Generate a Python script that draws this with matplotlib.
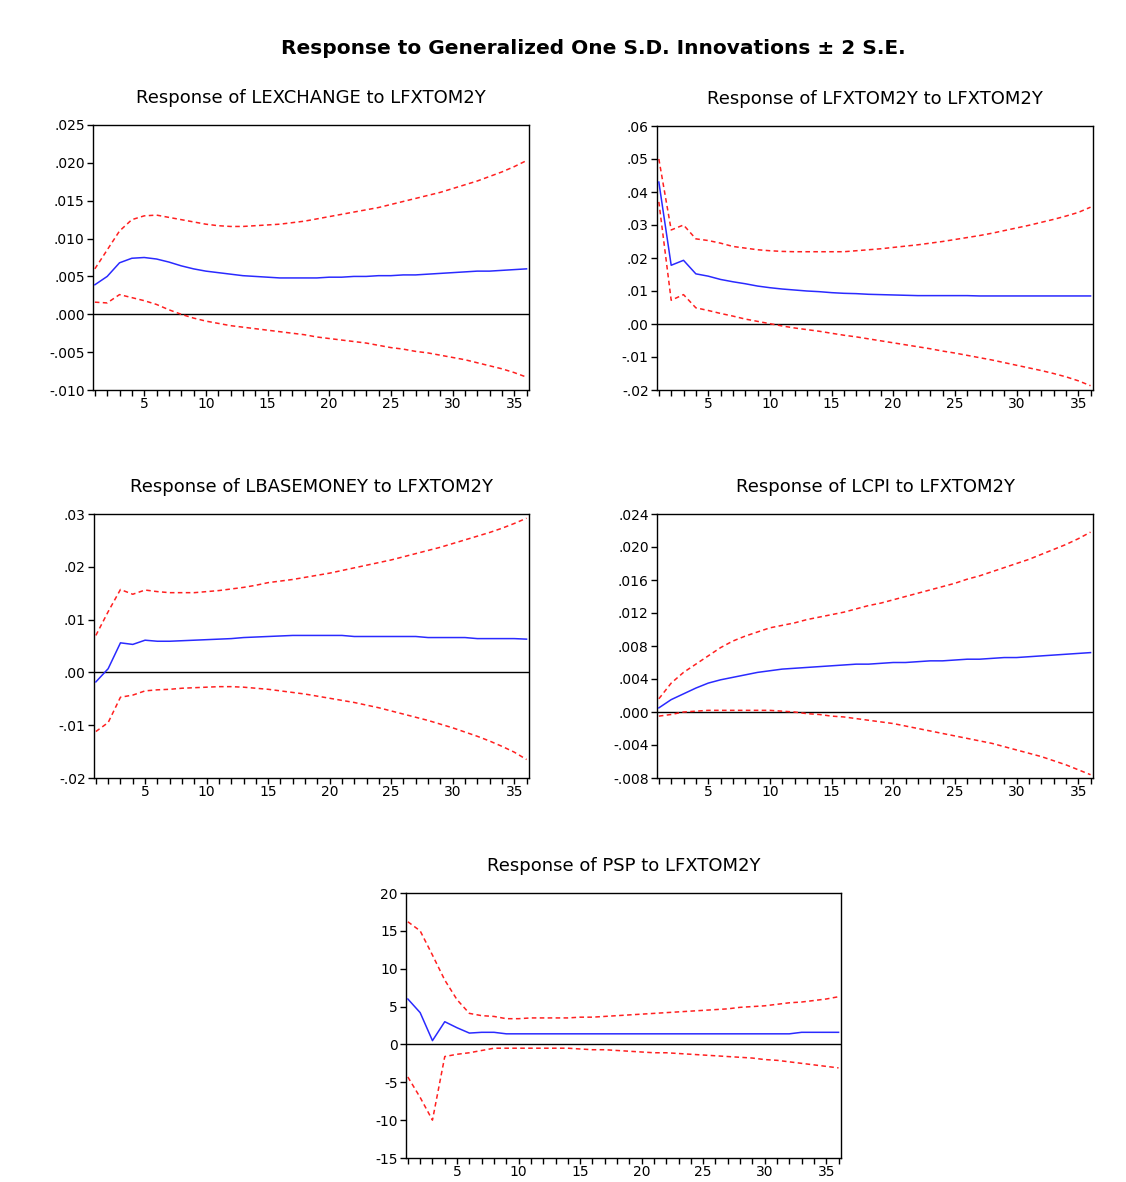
import matplotlib
matplotlib.use("Agg")
import matplotlib.pyplot as plt
from matplotlib.ticker import MultipleLocator, FuncFormatter, FixedLocator
import numpy as np

plt.rcParams['font.family'] = ['DejaVu Sans']

periods = list(range(1, 37))

# Response of LEXCHANGE to LFXTOM2Y
lex_resp = [0.0039, 0.0050, 0.0068, 0.0074, 0.0075, 0.0073, 0.0069, 0.0064, 0.0060, 0.0057,
            0.0055, 0.0053, 0.0051, 0.0050, 0.0049, 0.0048, 0.0048, 0.0048, 0.0048, 0.0049,
            0.0049, 0.0050, 0.0050, 0.0051, 0.0051, 0.0052, 0.0052, 0.0053, 0.0054, 0.0055,
            0.0056, 0.0057, 0.0057, 0.0058, 0.0059, 0.0060]
lex_upper = [0.0060, 0.0085, 0.0110, 0.0125, 0.0130, 0.0131, 0.0128, 0.0125, 0.0122, 0.0119,
             0.0117, 0.0116, 0.0116, 0.0117, 0.0118, 0.0119, 0.0121, 0.0123, 0.0126, 0.0129,
             0.0132, 0.0135, 0.0138, 0.0141, 0.0145, 0.0149, 0.0153, 0.0157, 0.0161, 0.0166,
             0.0171, 0.0176, 0.0182, 0.0188, 0.0195, 0.0203]
lex_lower = [0.0016, 0.0015, 0.0026, 0.0022, 0.0018, 0.0013, 0.0006, 0.0000, -0.0005, -0.0009,
             -0.0012, -0.0015, -0.0017, -0.0019, -0.0021, -0.0023, -0.0025, -0.0027, -0.0030, -0.0032,
             -0.0034, -0.0036, -0.0038, -0.0041, -0.0044, -0.0046, -0.0049, -0.0051, -0.0054, -0.0057,
             -0.0060, -0.0064, -0.0068, -0.0072, -0.0077, -0.0083]

# Response of LFXTOM2Y to LFXTOM2Y
fx_resp = [0.0430, 0.0178, 0.0193, 0.0152, 0.0145, 0.0135, 0.0128, 0.0122, 0.0115, 0.0110,
           0.0106, 0.0103, 0.0100, 0.0098, 0.0095, 0.0093, 0.0092, 0.0090, 0.0089, 0.0088,
           0.0087, 0.0086, 0.0086, 0.0086, 0.0086, 0.0086, 0.0085, 0.0085, 0.0085, 0.0085,
           0.0085, 0.0085, 0.0085, 0.0085, 0.0085, 0.0085]
fx_upper = [0.0500, 0.0285, 0.0300, 0.0258, 0.0253, 0.0245, 0.0235, 0.0230, 0.0225, 0.0222,
            0.0220, 0.0219, 0.0219, 0.0219, 0.0219, 0.0219, 0.0222, 0.0225, 0.0228, 0.0232,
            0.0236, 0.0240, 0.0245, 0.0250, 0.0256, 0.0262, 0.0268, 0.0275, 0.0283, 0.0291,
            0.0299, 0.0308, 0.0317, 0.0327, 0.0338, 0.0354]
fx_lower = [0.0370, 0.0072, 0.0089, 0.0049, 0.0041, 0.0032, 0.0024, 0.0015, 0.0008, 0.0001,
            -0.0006, -0.0012, -0.0017, -0.0022, -0.0028, -0.0034, -0.0039, -0.0045, -0.0051, -0.0057,
            -0.0063, -0.0069, -0.0075, -0.0082, -0.0088, -0.0095, -0.0102, -0.0109, -0.0117, -0.0125,
            -0.0133, -0.0141, -0.0150, -0.0160, -0.0172, -0.0187]

# Response of LBASEMONEY to LFXTOM2Y
bm_resp = [-0.0018, 0.0007, 0.0056, 0.0053, 0.0061, 0.0059, 0.0059, 0.0060, 0.0061, 0.0062,
           0.0063, 0.0064, 0.0066, 0.0067, 0.0068, 0.0069, 0.0070, 0.0070, 0.0070, 0.0070,
           0.0070, 0.0068, 0.0068, 0.0068, 0.0068, 0.0068, 0.0068, 0.0066, 0.0066, 0.0066,
           0.0066, 0.0064, 0.0064, 0.0064, 0.0064, 0.0063]
bm_upper = [0.0070, 0.0115, 0.0157, 0.0148, 0.0156, 0.0153, 0.0151, 0.0151, 0.0151, 0.0153,
            0.0155, 0.0158, 0.0161, 0.0165, 0.0170, 0.0173, 0.0176, 0.0180, 0.0184, 0.0188,
            0.0193, 0.0198, 0.0203, 0.0208, 0.0213, 0.0219, 0.0225, 0.0231, 0.0237, 0.0244,
            0.0251, 0.0258, 0.0265, 0.0273, 0.0282, 0.0292]
bm_lower = [-0.0112, -0.0095, -0.0047, -0.0043, -0.0035, -0.0033, -0.0032, -0.0030, -0.0029, -0.0028,
            -0.0027, -0.0027, -0.0028, -0.0030, -0.0032, -0.0035, -0.0038, -0.0041, -0.0045, -0.0049,
            -0.0053, -0.0057, -0.0062, -0.0067, -0.0073, -0.0079, -0.0085, -0.0091, -0.0098, -0.0105,
            -0.0113, -0.0121, -0.0130, -0.0140, -0.0151, -0.0165]

# Response of LCPI to LFXTOM2Y
cpi_resp = [0.0005, 0.0015, 0.0022, 0.0029, 0.0035, 0.0039, 0.0042, 0.0045, 0.0048, 0.0050,
            0.0052, 0.0053, 0.0054, 0.0055, 0.0056, 0.0057, 0.0058, 0.0058, 0.0059, 0.0060,
            0.0060, 0.0061, 0.0062, 0.0062, 0.0063, 0.0064, 0.0064, 0.0065, 0.0066, 0.0066,
            0.0067, 0.0068, 0.0069, 0.0070, 0.0071, 0.0072]
cpi_upper = [0.0016, 0.0035, 0.0048, 0.0058, 0.0068, 0.0078, 0.0086, 0.0092, 0.0097, 0.0102,
             0.0105, 0.0108, 0.0112, 0.0115, 0.0118, 0.0121, 0.0125, 0.0129, 0.0132, 0.0136,
             0.0140, 0.0144, 0.0148, 0.0152, 0.0156, 0.0161, 0.0165, 0.0170, 0.0175, 0.0180,
             0.0185, 0.0191, 0.0197, 0.0203, 0.0210, 0.0218]
cpi_lower = [-0.0005, -0.0003, 0.0000, 0.0001, 0.0002, 0.0002, 0.0002, 0.0002, 0.0002, 0.0002,
             0.0001, 0.0000, -0.0002, -0.0003, -0.0005, -0.0006, -0.0008, -0.0010, -0.0012, -0.0014,
             -0.0017, -0.0020, -0.0023, -0.0026, -0.0029, -0.0032, -0.0035, -0.0038, -0.0042, -0.0046,
             -0.0050, -0.0054, -0.0059, -0.0064, -0.0070, -0.0076]

# Response of PSP to LFXTOM2Y
psp_resp = [6.0, 4.2, 0.5, 3.0, 2.2, 1.5, 1.6, 1.6, 1.4, 1.4,
            1.4, 1.4, 1.4, 1.4, 1.4, 1.4, 1.4, 1.4, 1.4, 1.4,
            1.4, 1.4, 1.4, 1.4, 1.4, 1.4, 1.4, 1.4, 1.4, 1.4,
            1.4, 1.4, 1.6, 1.6, 1.6, 1.6]
psp_upper = [16.2, 15.0, 11.8, 8.5, 5.9, 4.1, 3.8, 3.7, 3.4, 3.4,
             3.5, 3.5, 3.5, 3.5, 3.6, 3.6, 3.7, 3.8, 3.9, 4.0,
             4.1, 4.2, 4.3, 4.4, 4.5, 4.6, 4.7, 4.9, 5.0, 5.1,
             5.3, 5.5, 5.6, 5.8, 6.0, 6.3]
psp_lower = [-4.3, -7.0, -10.0, -1.6, -1.3, -1.1, -0.8, -0.5, -0.5, -0.5,
             -0.5, -0.5, -0.5, -0.5, -0.6, -0.7, -0.7, -0.8, -0.9, -1.0,
             -1.1, -1.1, -1.2, -1.3, -1.4, -1.5, -1.6, -1.7, -1.8, -2.0,
             -2.1, -2.3, -2.5, -2.7, -2.9, -3.1]

titles = ["Response of LEXCHANGE to LFXTOM2Y",
          "Response of LFXTOM2Y to LFXTOM2Y",
          "Response of LBASEMONEY to LFXTOM2Y",
          "Response of LCPI to LFXTOM2Y",
          "Response of PSP to LFXTOM2Y"]
yticks = [[-0.010, -0.005, 0.000, 0.005, 0.010, 0.015, 0.020, 0.025],
          [-0.02, -0.01, 0.00, 0.01, 0.02, 0.03, 0.04, 0.05, 0.06],
          [-0.02, -0.01, 0.00, 0.01, 0.02, 0.03],
          [-0.008, -0.004, 0.000, 0.004, 0.008, 0.012, 0.016, 0.020, 0.024],
          [-15, -10, -5, 0, 5, 10, 15, 20]]
ydec = [3, 2, 2, 3, None]
series = [(lex_resp, lex_upper, lex_lower),
          (fx_resp, fx_upper, fx_lower),
          (bm_resp, bm_upper, bm_lower),
          (cpi_resp, cpi_upper, cpi_lower),
          (psp_resp, psp_upper, psp_lower)]

W, H = 1126, 1182
fig = plt.figure(figsize=(W / 100, H / 100), dpi=100)

# axes boxes in pixels: left, top, right, bottom
boxes = [(93, 125, 529, 390), (657, 126, 1093, 390),
         (94, 514, 529, 778), (657, 514, 1093, 778),
         (406, 893, 841, 1158)]


def make_fmt(dec):
    def f(v, pos):
        if dec is None:
            return "%d" % round(v)
        s = ("%." + str(dec) + "f") % v
        if s.startswith("-0"):
            s = "-" + s[2:]
        elif s.startswith("0"):
            s = s[1:]
        return s
    return f


for i in range(5):
    l, t, r, b = boxes[i]
    ax = fig.add_axes([l / W, 1 - b / H, (r - l) / W, (b - t) / H])
    resp, up, lo = series[i]
    ax.axhline(0, color='black', lw=1.0, zorder=1)
    ax.plot(periods, up, color='#ff2020', lw=1.1, dashes=(3, 2.2), zorder=2)
    ax.plot(periods, lo, color='#ff2020', lw=1.1, dashes=(3, 2.2), zorder=2)
    ax.plot(periods, resp, color='#2a2aff', lw=1.1, zorder=3)
    ax.set_xlim(0.85, 36.2)
    ax.set_ylim(yticks[i][0], yticks[i][-1])
    ax.yaxis.set_major_locator(FixedLocator(yticks[i]))
    ax.yaxis.set_major_formatter(FuncFormatter(make_fmt(ydec[i])))
    ax.xaxis.set_major_locator(MultipleLocator(5))
    ax.xaxis.set_minor_locator(MultipleLocator(1))
    ax.tick_params(axis='both', which='both', direction='out', top=False, right=False,
                   length=4, width=1, labelsize=10, pad=2, colors='black')
    ax.tick_params(axis='x', pad=1)
    for sp in ax.spines.values():
        sp.set_linewidth(1.0)
        sp.set_color('black')
    fig.text(((l + r) / 2) / W, 1 - (t - 27) / H, titles[i], ha='center', va='center',
             fontsize=13)

fig.text(593 / W, 1 - 48 / H, "Response to Generalized One S.D. Innovations \u00b1 2 S.E.",
         ha='center', va='center', fontsize=14.5, fontweight='bold')

fig.savefig("out.png", dpi=100)
